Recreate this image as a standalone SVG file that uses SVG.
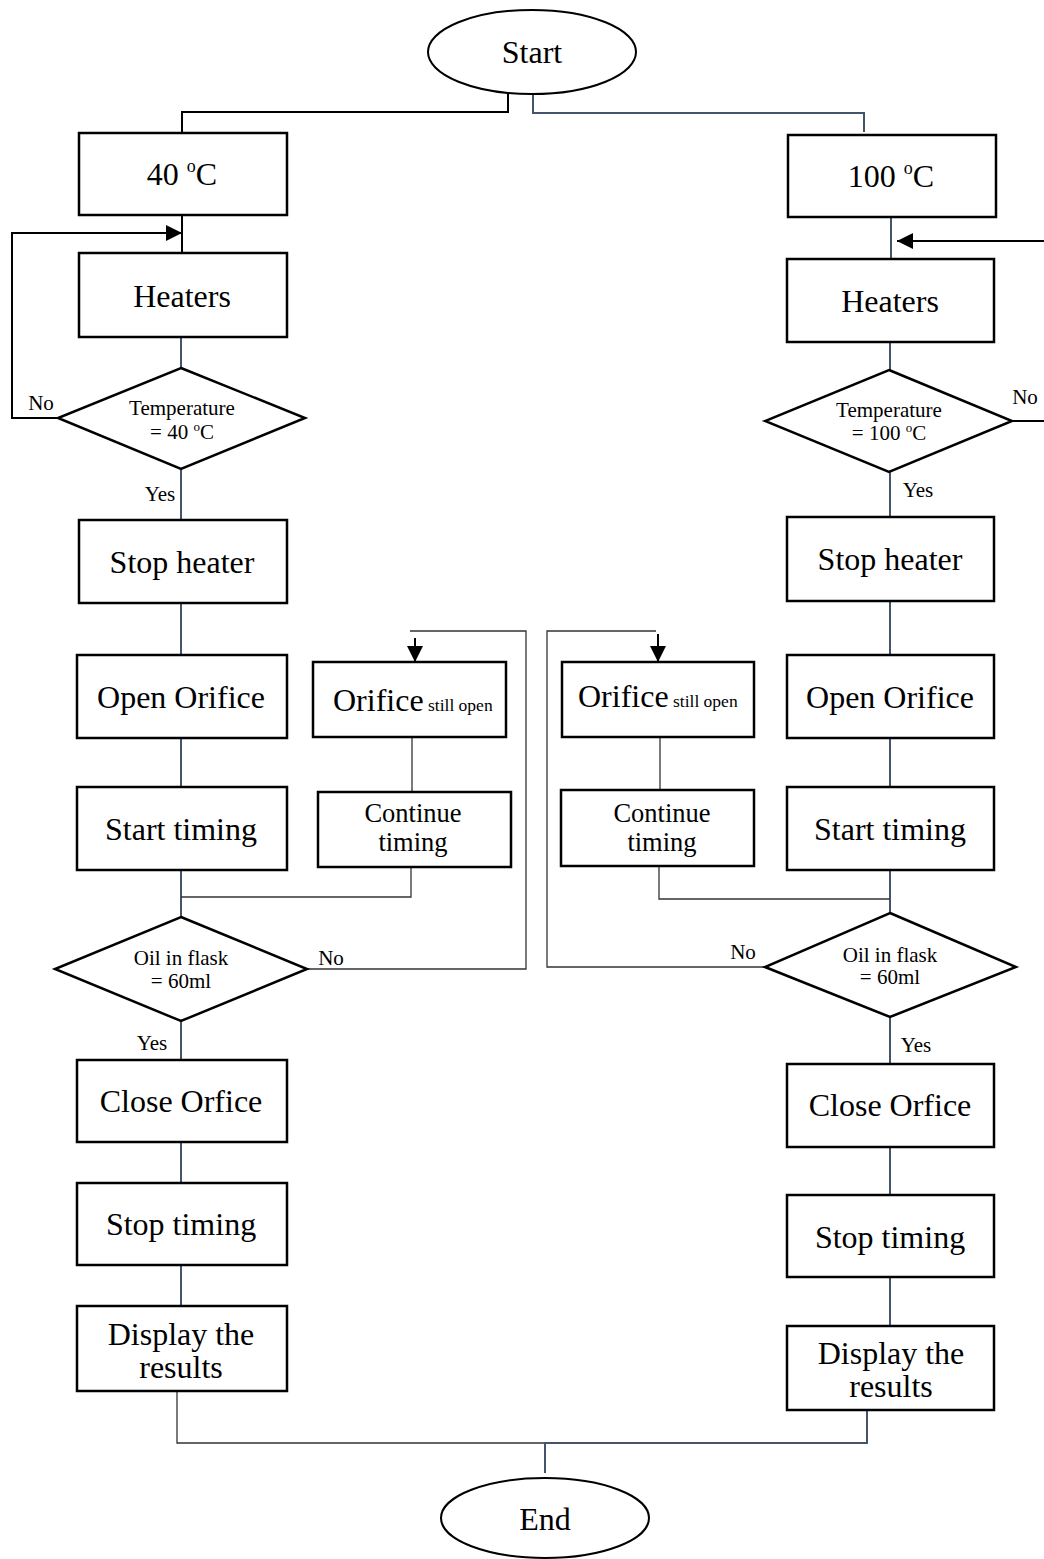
<svg xmlns="http://www.w3.org/2000/svg" width="1044" height="1559" viewBox="0 0 1044 1559">
<style>
.box{fill:#fff;stroke:#000;stroke-width:2.5}
.t{font-family:"Liberation Serif","Times New Roman",serif;fill:#000;text-anchor:middle;dominant-baseline:central}
.big{font-size:32px}
.mid{font-size:26.5px}
.sm{font-size:21px}
.c{fill:none;stroke:#44546a;stroke-width:2}
.k{fill:none;stroke:#000;stroke-width:2}
.thin{fill:none;stroke:#333;stroke-width:1.3}
.o{font-family:"Liberation Serif","Times New Roman",serif;fill:#000}
</style>
<defs>
<marker id="ah" markerUnits="userSpaceOnUse" markerWidth="18" markerHeight="16" refX="16" refY="8" orient="auto">
<path d="M0,0 L16,8 L0,16 Z" fill="#000"/>
</marker>
</defs>
<rect width="1044" height="1559" fill="#fff"/>
<g id="connectors">
<path class="k" d="M508,93 V112 H182 V132"/>
<path class="c" d="M533,93 V113 H864 V132"/>
<path class="k" d="M182,215 V253"/>
<path class="k" d="M58,418 H12 V233 H182" marker-end="url(#ah)"/>
<path class="c" d="M181,337 V368"/>
<path class="c" d="M181,469 V520"/>
<path class="c" d="M181,603 V655"/>
<path class="c" d="M181,738 V787"/>
<path class="c" d="M181,870 V917"/>
<path class="c" d="M181,1021 V1060"/>
<path class="c" d="M181,1142 V1183"/>
<path class="c" d="M181,1265 V1306"/>
<path class="c" d="M891,217 V259"/>
<path class="k" d="M1012,421 H1060 V241 H897" marker-end="url(#ah)"/>
<path class="c" d="M890,342 V370"/>
<path class="c" d="M890,472 V517"/>
<path class="c" d="M890,601 V655"/>
<path class="c" d="M890,738 V787"/>
<path class="c" d="M890,870 V913"/>
<path class="c" d="M890,1017 V1064"/>
<path class="c" d="M890,1147 V1195"/>
<path class="c" d="M890,1277 V1326"/>
<path class="thin" d="M305,969 H526 V631 H410"/>
<path class="k" d="M415,638 V662" marker-end="url(#ah)"/>
<path class="thin" d="M412,737 V792"/>
<path class="thin" d="M411,867 V897 H181"/>
<path class="thin" d="M765,967 H547 V631 H656"/>
<path class="k" d="M658,634 V662" marker-end="url(#ah)"/>
<path class="thin" d="M660,737 V790"/>
<path class="thin" d="M659,866 V899 H890"/>
<path class="thin" d="M177,1391 V1443 H867"/>
<path class="c" d="M867,1410 V1443 H545 V1473"/>
</g>
<g id="start">
<ellipse cx="532" cy="52" rx="104" ry="42" fill="#fff" stroke="#000" stroke-width="2"/>
<text class="t big" x="532" y="52">Start</text>
</g>
<g id="l-40">
<rect class="box" x="79" y="133" width="208" height="82"/>
<text class="t big" x="182" y="174">40 <tspan font-size="18" dy="-8">o</tspan><tspan dy="8">C</tspan></text>
</g>
<g id="r-100">
<rect class="box" x="788" y="135" width="208" height="82"/>
<text class="t big" x="891" y="176">100 <tspan font-size="18" dy="-8">o</tspan><tspan dy="8">C</tspan></text>
</g>
<g id="l-heaters">
<rect class="box" x="79" y="253" width="208" height="84"/>
<text class="t big" x="182" y="296">Heaters</text>
</g>
<g id="r-heaters">
<rect class="box" x="787" y="259" width="207" height="83"/>
<text class="t big" x="890" y="301">Heaters</text>
</g>
<g id="l-temp">
<polygon class="box" points="181,368 305,418 181,469 58,418"/>
<text class="t sm" x="182" y="408">Temperature</text>
<text class="t sm" x="182" y="432">= 40 <tspan font-size="13" dy="-6">o</tspan><tspan dy="6">C</tspan></text>
</g>
<g id="r-temp">
<polygon class="box" points="889,370 1012,421 889,472 765,421"/>
<text class="t sm" x="889" y="410">Temperature</text>
<text class="t sm" x="889" y="433">= 100 <tspan font-size="13" dy="-6">o</tspan><tspan dy="6">C</tspan></text>
</g>
<g id="labels">
<text class="t sm" x="41" y="403">No</text>
<text class="t sm" x="1025" y="397">No</text>
<text class="t sm" x="160" y="494">Yes</text>
<text class="t sm" x="918" y="490">Yes</text>
<text class="t sm" x="331" y="958">No</text>
<text class="t sm" x="743" y="952">No</text>
<text class="t sm" x="152" y="1043">Yes</text>
<text class="t sm" x="916" y="1045">Yes</text>
</g>
<g id="l-stopheater">
<rect class="box" x="79" y="520" width="208" height="83"/>
<text class="t big" x="182" y="562">Stop heater</text>
</g>
<g id="r-stopheater">
<rect class="box" x="787" y="517" width="207" height="84"/>
<text class="t big" x="890" y="559">Stop heater</text>
</g>
<g id="l-open">
<rect class="box" x="77" y="655" width="210" height="83"/>
<text class="t big" x="181" y="697">Open Orifice</text>
</g>
<g id="r-open">
<rect class="box" x="787" y="655" width="207" height="83"/>
<text class="t big" x="890" y="697">Open Orifice</text>
</g>
<g id="l-stillopen">
<rect class="box" x="313" y="662" width="193" height="75"/>
<text class="o" x="333" y="711" font-size="32">Orifice<tspan font-size="17.5"> still open</tspan></text>
</g>
<g id="r-stillopen">
<rect class="box" x="562" y="662" width="192" height="75"/>
<text class="o" x="578" y="707" font-size="32">Orifice<tspan font-size="17.5"> still open</tspan></text>
</g>
<g id="l-start">
<rect class="box" x="77" y="787" width="210" height="83"/>
<text class="t big" x="181" y="829">Start timing</text>
</g>
<g id="r-start">
<rect class="box" x="787" y="787" width="207" height="83"/>
<text class="t big" x="890" y="829">Start timing</text>
</g>
<g id="l-continue">
<rect class="box" x="318" y="792" width="193" height="75"/>
<text class="t mid" x="413" y="813">Continue</text>
<text class="t mid" x="413" y="842">timing</text>
</g>
<g id="r-continue">
<rect class="box" x="561" y="790" width="193" height="76"/>
<text class="t mid" x="662" y="813">Continue</text>
<text class="t mid" x="662" y="842">timing</text>
</g>
<g id="l-oil">
<polygon class="box" points="181,917 307,969 181,1021 55,969"/>
<text class="t sm" x="181" y="958">Oil in flask</text>
<text class="t sm" x="181" y="981">= 60ml</text>
</g>
<g id="r-oil">
<polygon class="box" points="890,913 1016,967 890,1017 765,967"/>
<text class="t sm" x="890" y="955">Oil in flask</text>
<text class="t sm" x="890" y="977">= 60ml</text>
</g>
<g id="l-close">
<rect class="box" x="77" y="1060" width="210" height="82"/>
<text class="t big" x="181" y="1101">Close Orfice</text>
</g>
<g id="r-close">
<rect class="box" x="787" y="1064" width="207" height="83"/>
<text class="t big" x="890" y="1105">Close Orfice</text>
</g>
<g id="l-stoptiming">
<rect class="box" x="77" y="1183" width="210" height="82"/>
<text class="t big" x="181" y="1224">Stop timing</text>
</g>
<g id="r-stoptiming">
<rect class="box" x="787" y="1195" width="207" height="82"/>
<text class="t big" x="890" y="1237">Stop timing</text>
</g>
<g id="l-display">
<rect class="box" x="77" y="1306" width="210" height="85"/>
<text class="t big" x="181" y="1334">Display the</text>
<text class="t big" x="181" y="1367">results</text>
</g>
<g id="r-display">
<rect class="box" x="787" y="1326" width="207" height="84"/>
<text class="t big" x="891" y="1353">Display the</text>
<text class="t big" x="891" y="1386">results</text>
</g>
<g id="end">
<ellipse cx="545" cy="1518" rx="104" ry="40" fill="#fff" stroke="#000" stroke-width="2"/>
<text class="t big" x="545" y="1519">End</text>
</g>
</svg>
